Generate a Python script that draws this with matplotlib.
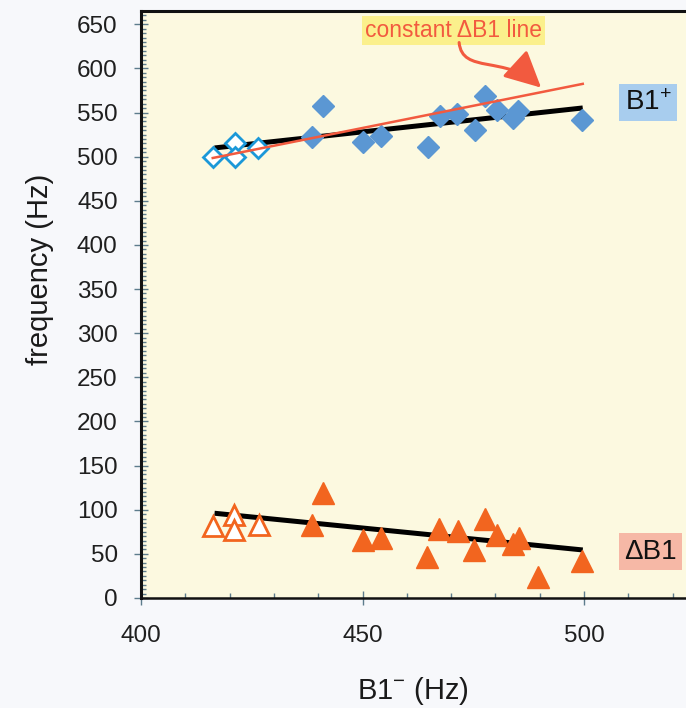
import matplotlib
matplotlib.use("Agg")
import matplotlib.pyplot as plt
from matplotlib.patches import FancyArrowPatch
from matplotlib.path import Path
from matplotlib.ticker import MultipleLocator

plt.rcParams["font.family"] = ["Liberation Sans", "DejaVu Sans"]

# B1+ (open = first few reference points, filled = rest)
open_b1_minus = [416.2, 421.3, 421.3, 426.5]
open_b1_plus = [499.2, 515.5, 499.7, 509.9]
b1_minus = [438.7, 441.0, 450.2, 454.2, 464.7, 467.4, 471.4, 475.4,
            477.7, 480.3, 484.0, 485.1, 499.5]
b1_plus = [521.9, 557.8, 516.7, 523.8, 510.5, 545.7, 548.8, 530.6,
           569.2, 552.5, 544.2, 552.2, 541.2]

# delta B1
open_d_minus = [416.2, 421.1, 421.1, 426.7]
open_delta = [81.6, 94.1, 77.1, 82.8]
d_minus = [438.7, 441.0, 450.2, 454.2, 464.5, 467.3, 471.6, 475.2,
           477.7, 480.3, 484.0, 485.2, 489.7, 499.5]
delta_b1 = [82.8, 118.7, 66.1, 68.4, 46.1, 78.6, 76.3, 54.4,
            89.9, 71.1, 61.2, 67.7, 24.1, 42.3]

# fitted lines and constant dB1 line (end points)
fit_x = [416.6, 499.7]
fit_plus = [509.9, 555.2]
fit_delta = [96.0, 54.4]
const_x = [416.2, 499.7]
const_y = [498.5, 582.5]

blue = "#5b97d3"
cyan = "#1b98d8"
orange = "#f2651f"
red = "#f25a3f"

fig = plt.figure(figsize=(6.86, 7.08), dpi=100, facecolor="#f7f8fb")
ax = fig.add_axes([0.2055, 0.1554, 0.7945, 0.829])
ax.set_facecolor("#fcf9e0")

# regression lines
ax.plot(fit_x, fit_plus, color="black", lw=3.6, solid_capstyle="butt", zorder=2)
ax.plot(fit_x, fit_delta, color="black", lw=3.6, solid_capstyle="butt", zorder=2)

# B1+ points
ax.plot(b1_minus, b1_plus, "D", ms=11, color=blue, mec=blue, zorder=3)
ax.plot(open_b1_minus, open_b1_plus, "D", ms=10.5, mfc="white", mec=cyan,
        mew=2, zorder=3)

# constant dB1 line on top
ax.plot(const_x, const_y, color=red, lw=1.8, zorder=4)

# dB1 points
ax.plot(d_minus, delta_b1, "^", ms=16, color=orange, mec=orange, zorder=3)
ax.plot(open_d_minus, open_delta, "^", ms=15, mfc="white", mec=orange,
        mew=2, zorder=3)

# labels on the right
ax.text(514.4, 561, r"$\mathregular{B1^{+}}$", fontsize=20, ha="center",
        va="center", color="#111111",
        bbox=dict(boxstyle="square,pad=0.2", fc="#a8cdee", ec="none"))
ax.text(515.0, 52.5, "\u0394B1", fontsize=20, ha="center", va="center",
        color="#111111",
        bbox=dict(boxstyle="square,pad=0.2", fc="#f6b8a6", ec="none"))

# annotation for constant dB1 line
ax.text(470.5, 643, "constant \u0394B1 line", fontsize=16.5, ha="center",
        va="center", color=red,
        bbox=dict(boxstyle="square,pad=0.12", fc="#fbf08c", ec="none"))
verts = [(471.8, 629.3), (472.5, 593.0), (482.2, 615.6), (490.3, 578.2)]
codes = [Path.MOVETO, Path.CURVE4, Path.CURVE4, Path.CURVE4]
arrow = FancyArrowPatch(path=Path(verts, codes),
                        arrowstyle="-|>,head_length=1.4,head_width=0.7",
                        mutation_scale=16, color=red, lw=2.2,
                        transform=ax.transData, zorder=5)
ax.add_patch(arrow)

# axes
ax.set_xlim(400, 523)
ax.set_ylim(0, 665)
ax.xaxis.set_major_locator(MultipleLocator(50))
ax.xaxis.set_minor_locator(MultipleLocator(10))
ax.yaxis.set_major_locator(MultipleLocator(50))
ax.yaxis.set_minor_locator(MultipleLocator(5))

tick_col = "#5d7c8c"
ax.tick_params(which="major", direction="inout", length=9.5, width=1,
               color=tick_col, labelsize=17.5, labelcolor="#1f1f1f")
ax.tick_params(axis="y", which="major", pad=12)
ax.tick_params(axis="x", which="major", pad=15)
ax.tick_params(which="minor", direction="in", length=3.5, width=1,
               color=tick_col)

ax.spines["right"].set_visible(False)
for side in ["left", "top"]:
    ax.spines[side].set_linewidth(2.2)
ax.spines["bottom"].set_linewidth(1.8)
for side in ["left", "top", "bottom"]:
    ax.spines[side].set_color("#111111")

ax.set_xlabel(r"$\mathregular{B1^{-}}$ (Hz)", fontsize=21, color="#1a1a1a",
              labelpad=20)
ax.set_ylabel("frequency (Hz)", fontsize=21, color="#1a1a1a")
ax.yaxis.set_label_coords(-0.16, 0.56)

fig.savefig("out.png", dpi=100, facecolor=fig.get_facecolor())
